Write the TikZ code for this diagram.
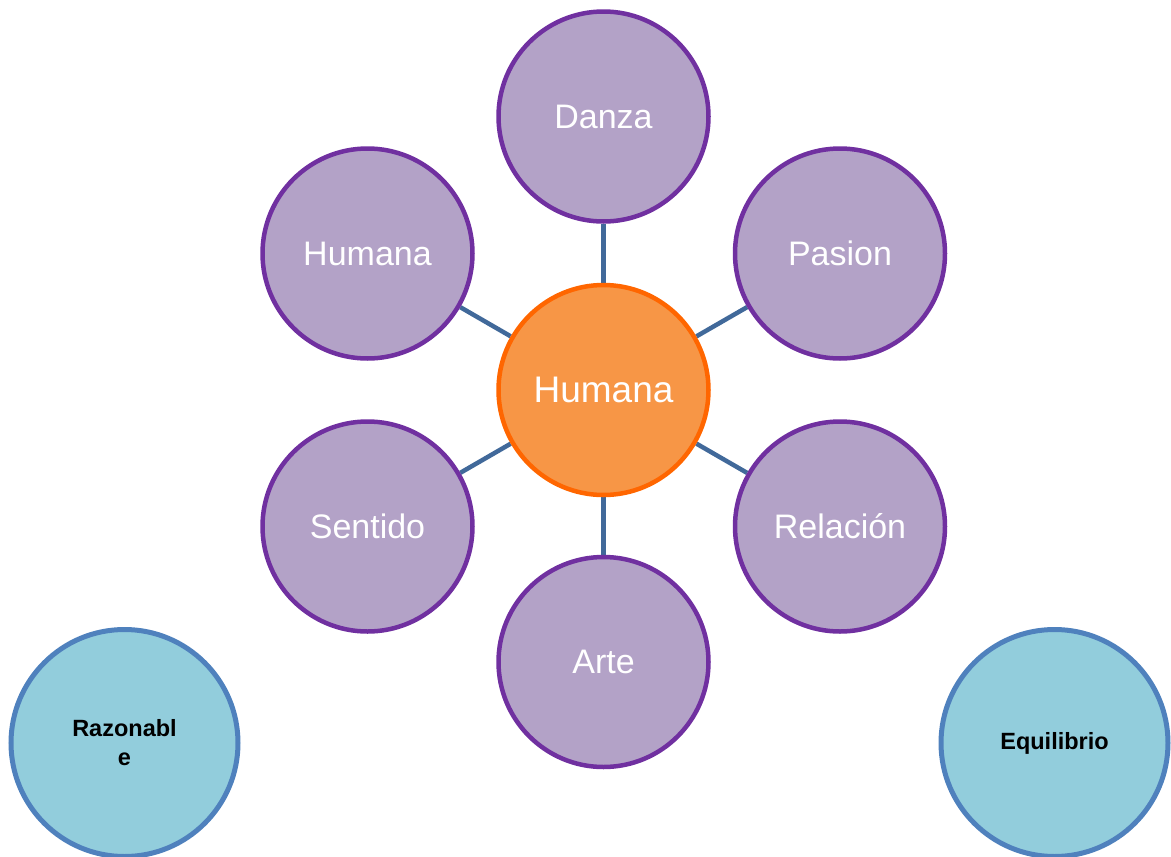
\documentclass[tikz,border=0pt]{standalone}
\usepackage{fontspec}
\setmainfont{Liberation Sans}
\usetikzlibrary{backgrounds}
\definecolor{pfill}{HTML}{B3A2C7}
\definecolor{pdraw}{HTML}{7030A0}
\definecolor{ofill}{HTML}{F79646}
\definecolor{odraw}{HTML}{FF6600}
\definecolor{bfill}{HTML}{92CDDC}
\definecolor{bdraw}{HTML}{4F81BD}
\definecolor{conn}{HTML}{41699A}
\tikzset{
  x=1pt,y=1pt,
  outer/.style={circle,fill=pfill,draw=pdraw,line width=4.5pt,minimum size=210pt,inner sep=0pt,text=white,font=\fontsize{34}{40}\selectfont},
  hub/.style={circle,fill=ofill,draw=odraw,line width=4.5pt,minimum size=210pt,inner sep=0pt,text=white,font=\fontsize{37}{42}\selectfont},
  side/.style={circle,fill=bfill,draw=bdraw,line width=5pt,minimum size=227pt,inner sep=0pt,text=black,align=center,font=\bfseries\fontsize{23.5}{29}\selectfont},
  link/.style={draw=conn,line width=4.5pt}
}
\begin{document}
\begin{tikzpicture}
\useasboundingbox (0,0) rectangle (1171,-857);
\node[hub] (c) at (603.5,-390) {Humana};
\node[outer] (danza) at (603.5,-116.5) {Danza};
\node[outer] (hum) at (367.5,-253.5) {Humana};
\node[outer] (pas) at (840,-253.5) {Pasion};
\node[outer] (sen) at (367.5,-526.5) {Sentido};
\node[outer] (rel) at (840,-526.5) {Relación};
\node[outer] (arte) at (603.5,-662) {Arte};
\node[side] (raz) at (124.5,-743) {Razonabl\\e};
\node[side] (equ) at (1054.5,-743) {Equilibrio};
\begin{scope}[on background layer]
\draw[link] (c) -- (danza);
\draw[link] (c) -- (hum);
\draw[link] (c) -- (pas);
\draw[link] (c) -- (sen);
\draw[link] (c) -- (rel);
\draw[link] (c) -- (arte);
\end{scope}
\end{tikzpicture}
\end{document}
